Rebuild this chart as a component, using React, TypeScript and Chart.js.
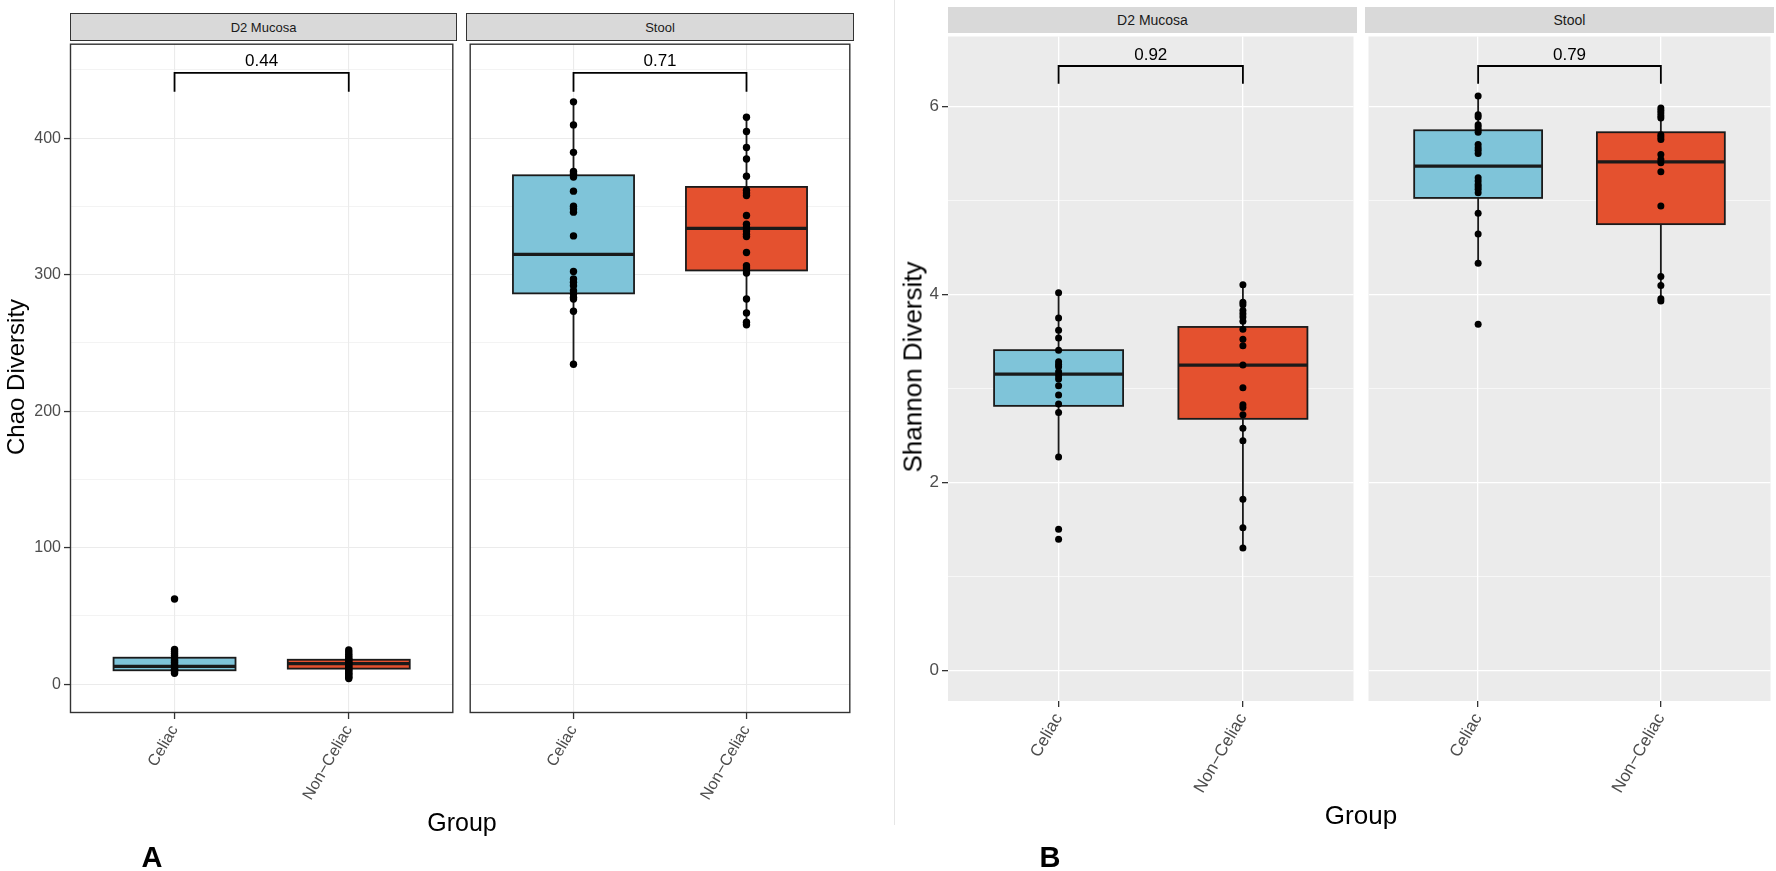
import React, { useEffect, useRef } from 'react';
import { Chart, registerables } from 'chart.js';

Chart.register(...registerables);

const FONT = "'Liberation Sans', Arial, Helvetica, sans-serif";

const GROUPS = ['Celiac', 'Non\u2212Celiac'];
const GROUP_COLORS = ['#7fc4d9', '#e4512f'];
const FACETS = ['D2 Mucosa', 'Stool'];

// ---------- Panel A : Chao diversity ----------
const CHAO_MUCOSA_CELIAC = [62.4, 25.5, 24, 22.5, 21, 19.5, 18, 17, 16, 15, 14, 13, 12, 11, 10.5, 10, 9, 8];
const CHAO_MUCOSA_NONCELIAC = [25, 23.5, 22, 20.5, 19, 18, 17, 16, 15, 14, 13, 12, 11, 10, 9, 8, 7, 6, 5, 4.2];
const CHAO_STOOL_CELIAC = [426.6, 409.7, 389.6, 375.7, 374.5, 373.3, 371.6, 361.2, 350.2, 348.3, 345.8, 328.4, 302.4, 296.8, 294.4, 291.9, 288.3, 285.8, 283.4, 282.2, 273.2, 234.4];
const CHAO_STOOL_NONCELIAC = [415.3, 404.9, 393.2, 384.7, 372.1, 361.9, 359.9, 358, 343.4, 336.9, 334.4, 332, 329.6, 327.9, 316.2, 306.5, 304.8, 302.9, 301.2, 282.2, 272, 265.2, 263.3];
// box stats: [lower whisker, Q1, median, Q3, upper whisker]
const CHAO_MUCOSA_CELIAC_BOX = [8, 10.2, 13, 19.4, 25.5];
const CHAO_MUCOSA_NONCELIAC_BOX = [4.2, 11.4, 15, 17.9, 25];
const CHAO_STOOL_CELIAC_BOX = [234.4, 286.3, 314.9, 372.8, 426.6];
const CHAO_STOOL_NONCELIAC_BOX = [263.3, 303.1, 333.9, 364.3, 415.3];
const CHAO_P = ['0.44', '0.71'];
const CHAO_BRACKET = [434, 447.9, 456.6]; // leg end, bar, label
const CHAO_Y_RANGE = [-21.1, 469.2];
const CHAO_Y_TICKS = [0, 50, 100, 150, 200, 250, 300, 350, 400, 450];
const CHAO_Y_LABELS = [0, 100, 200, 300, 400];

// ---------- Panel B : Shannon diversity ----------
const SHANNON_MUCOSA_CELIAC = [4.016, 3.748, 3.618, 3.536, 3.406, 3.282, 3.254, 3.229, 3.176, 3.134, 3.099, 3.028, 2.929, 2.834, 2.742, 2.269, 1.5, 1.394];
const SHANNON_MUCOSA_NONCELIAC = [4.101, 3.917, 3.889, 3.829, 3.794, 3.759, 3.713, 3.628, 3.522, 3.452, 3.247, 3.007, 2.824, 2.795, 2.718, 2.576, 2.442, 1.818, 1.517, 1.299];
const SHANNON_STOOL_CELIAC = [6.112, 5.911, 5.887, 5.805, 5.781, 5.752, 5.725, 5.594, 5.559, 5.534, 5.498, 5.241, 5.206, 5.17, 5.146, 5.118, 5.082, 4.863, 4.641, 4.33, 3.681];
const SHANNON_STOOL_NONCELIAC = [5.982, 5.957, 5.929, 5.901, 5.876, 5.699, 5.675, 5.647, 5.488, 5.435, 5.4, 5.304, 4.941, 4.189, 4.094, 3.953, 3.93];
const SHANNON_MUCOSA_CELIAC_BOX = [2.269, 2.813, 3.152, 3.406, 4.016];
const SHANNON_MUCOSA_NONCELIAC_BOX = [1.299, 2.675, 3.247, 3.653, 4.101];
const SHANNON_STOOL_CELIAC_BOX = [4.33, 5.026, 5.365, 5.746, 6.112];
const SHANNON_STOOL_NONCELIAC_BOX = [3.93, 4.747, 5.41, 5.725, 5.982];
const SHANNON_P = ['0.92', '0.79'];
const SHANNON_BRACKET = [6.24, 6.43, 6.546];
const SHANNON_Y_RANGE = [-0.328, 6.744];
const SHANNON_Y_TICKS = [0, 1, 2, 3, 4, 5, 6];
const SHANNON_Y_LABELS = [0, 2, 4, 6];

type FacetProps = {
  left: number; top: number; w: number; h: number;
  ya: number; xa: number;
  boxes: number[][]; points: number[][];
  pLabel: string; bracket: number[];
  yRange: number[]; yTicks: number[]; yLabels: number[];
  showY: boolean; grey: boolean;
  fontSize: number; pSize: number; radius: number; lw: number;
};

function Facet(p: FacetProps) {
  const ref = useRef<HTMLCanvasElement>(null);
  useEffect(() => {
    const canvas = ref.current!;
    const pts = p.points.flatMap((arr, i) => arr.map((v) => ({ x: i + 1, y: v })));
    const gridColor = p.grey ? '#ffffff' : '#ebebeb';
    const plugin = {
      id: 'ggbox',
      beforeDraw(chart: any) {
        if (!p.grey) return;
        const { ctx, chartArea: a } = chart;
        ctx.save();
        ctx.fillStyle = '#ebebeb';
        ctx.fillRect(a.left, a.top, a.right - a.left, a.bottom - a.top);
        ctx.restore();
      },
      beforeDatasetsDraw(chart: any) {
        const { ctx } = chart;
        const xs = chart.scales.x, ys = chart.scales.y;
        ctx.save();
        p.boxes.forEach((b, i) => {
          const cx = xs.getPixelForValue(i + 1);
          const hw = xs.getPixelForValue(i + 1.35) - cx;
          const yq1 = ys.getPixelForValue(b[1]);
          const yq3 = ys.getPixelForValue(b[3]);
          ctx.strokeStyle = '#1a1a1a';
          ctx.lineWidth = p.lw;
          ctx.beginPath();
          ctx.moveTo(cx, ys.getPixelForValue(b[0]));
          ctx.lineTo(cx, yq1);
          ctx.moveTo(cx, yq3);
          ctx.lineTo(cx, ys.getPixelForValue(b[4]));
          ctx.stroke();
          ctx.fillStyle = GROUP_COLORS[i];
          ctx.fillRect(cx - hw, yq3, 2 * hw, yq1 - yq3);
          ctx.strokeRect(cx - hw, yq3, 2 * hw, yq1 - yq3);
          ctx.lineWidth = p.lw * 1.8;
          const ym = ys.getPixelForValue(b[2]);
          ctx.beginPath();
          ctx.moveTo(cx - hw, ym);
          ctx.lineTo(cx + hw, ym);
          ctx.stroke();
        });
        ctx.restore();
      },
      afterDatasetsDraw(chart: any) {
        const { ctx } = chart;
        const xs = chart.scales.x, ys = chart.scales.y;
        const x1 = xs.getPixelForValue(1), x2 = xs.getPixelForValue(2);
        const yl = ys.getPixelForValue(p.bracket[0]);
        const yb = ys.getPixelForValue(p.bracket[1]);
        ctx.save();
        ctx.strokeStyle = '#000';
        ctx.lineWidth = p.lw;
        ctx.beginPath();
        ctx.moveTo(x1, yl);
        ctx.lineTo(x1, yb);
        ctx.lineTo(x2, yb);
        ctx.lineTo(x2, yl);
        ctx.stroke();
        ctx.fillStyle = '#000';
        ctx.font = `${p.pSize}px ${FONT}`;
        ctx.textAlign = 'center';
        ctx.textBaseline = 'middle';
        ctx.fillText(p.pLabel, (x1 + x2) / 2, ys.getPixelForValue(p.bracket[2]));
        ctx.restore();
      },
      afterDraw(chart: any) {
        if (p.grey) return;
        const { ctx, chartArea: a } = chart;
        ctx.save();
        ctx.strokeStyle = '#333333';
        ctx.lineWidth = 1.4;
        ctx.strokeRect(a.left + 0.5, a.top + 0.5, a.right - a.left - 1, a.bottom - a.top - 1);
        ctx.restore();
      },
    };
    const chart = new Chart(canvas, {
      type: 'scatter',
      data: {
        datasets: [{
          data: pts,
          pointRadius: p.radius,
          pointHoverRadius: p.radius,
          pointBackgroundColor: '#000',
          pointBorderWidth: 0,
        }],
      },
      options: {
        animation: false,
        responsive: false,
        maintainAspectRatio: false,
        devicePixelRatio: 1,
        events: [],
        layout: { padding: 0 },
        plugins: { legend: { display: false }, tooltip: { enabled: false }, title: { display: false } },
        scales: {
          x: {
            type: 'linear',
            min: 0.4,
            max: 2.6,
            bounds: 'data',
            afterBuildTicks: (s: any) => { s.ticks = GROUPS.map((_, i) => ({ value: i + 1 })); },
            afterFit: (s: any) => { s.height = p.xa; s.paddingLeft = 0; s.paddingRight = 0; },
            grid: { color: gridColor, lineWidth: p.grey ? 1.3 : 1.1, drawTicks: true, tickLength: 6, tickColor: '#333333', tickWidth: 1.3 },
            border: { display: false },
            ticks: {
              autoSkip: false, minRotation: 60, maxRotation: 60, padding: 3,
              color: '#4d4d4d', font: { family: FONT, size: p.fontSize },
              callback: (v: any) => GROUPS[Math.round(v) - 1] ?? '',
            },
          },
          y: {
            type: 'linear',
            min: p.yRange[0],
            max: p.yRange[1],
            bounds: 'data',
            afterBuildTicks: (s: any) => { s.ticks = p.yTicks.map((v) => ({ value: v })); },
            afterFit: (s: any) => { s.width = p.ya; s.paddingTop = 0; s.paddingBottom = 0; },
            grid: {
              color: gridColor,
              lineWidth: (c: any) => (p.yLabels.includes(c.tick?.value) ? (p.grey ? 1.3 : 1.1) : 0.6),
              drawTicks: p.showY,
              tickLength: 6,
              tickColor: (c: any) => (p.yLabels.includes(c.tick?.value) ? '#333333' : 'rgba(0,0,0,0)'),
              tickWidth: 1.3,
            },
            border: { display: false },
            ticks: {
              display: p.showY, autoSkip: false, padding: 3,
              color: '#4d4d4d', font: { family: FONT, size: p.fontSize },
              callback: (v: any) => (p.yLabels.includes(v) ? String(v) : ''),
            },
          },
        },
      } as any,
      plugins: [plugin],
    });
    return () => chart.destroy();
  }, []);
  return (
    <canvas
      ref={ref}
      width={p.w}
      height={p.h}
      style={{ position: 'absolute', left: p.left, top: p.top, width: p.w, height: p.h }}
    />
  );
}

const abs = (s: any) => ({ position: 'absolute', fontFamily: FONT, whiteSpace: 'nowrap', ...s } as React.CSSProperties);

export default function App() {
  const commonA = { yRange: CHAO_Y_RANGE, yTicks: CHAO_Y_TICKS, yLabels: CHAO_Y_LABELS, grey: false, fontSize: 16, pSize: 17, radius: 3.7, lw: 1.8, top: 40, h: 831, xa: 158 };
  const commonB = { yRange: SHANNON_Y_RANGE, yTicks: SHANNON_Y_TICKS, yLabels: SHANNON_Y_LABELS, grey: true, fontSize: 17, pSize: 17, radius: 3.5, lw: 1.8, top: 33, h: 838, xa: 170 };
  return (
    <div style={{ position: 'fixed', left: 0, top: 0, width: 1776, height: 871, background: '#fff', overflow: 'hidden' }}>
      {/* Panel A */}
      <Facet {...commonA} left={0} w={457} ya={70} showY={true}
        boxes={[CHAO_MUCOSA_CELIAC_BOX, CHAO_MUCOSA_NONCELIAC_BOX]}
        points={[CHAO_MUCOSA_CELIAC, CHAO_MUCOSA_NONCELIAC]}
        pLabel={CHAO_P[0]} bracket={CHAO_BRACKET} />
      <Facet {...commonA} left={466} w={388} ya={0} showY={false}
        boxes={[CHAO_STOOL_CELIAC_BOX, CHAO_STOOL_NONCELIAC_BOX]}
        points={[CHAO_STOOL_CELIAC, CHAO_STOOL_NONCELIAC]}
        pLabel={CHAO_P[1]} bracket={CHAO_BRACKET} />
      {[{ l: 70, w: 387 }, { l: 466, w: 388 }].map((s, i) => (
        <div key={'sa' + i} style={abs({ left: s.l, top: 13, width: s.w, height: 28, boxSizing: 'border-box', background: '#d9d9d9', border: '1.4px solid #333', color: '#1a1a1a', fontSize: 13, display: 'flex', alignItems: 'center', justifyContent: 'center' })}>{FACETS[i]}</div>
      ))}
      <div style={abs({ left: 16, top: 377, transform: 'translate(-50%,-50%) rotate(-90deg)', fontSize: 24, color: '#000' })}>Chao Diversity</div>
      <div style={abs({ left: 462, top: 822, transform: 'translate(-50%,-50%)', fontSize: 25, color: '#000' })}>Group</div>
      <div style={abs({ left: 152, top: 857, transform: 'translate(-50%,-50%)', fontSize: 29, fontWeight: 'bold', color: '#000' })}>A</div>

      {/* Panel B */}
      <div style={abs({ left: 894, top: 0, width: 1, height: 825, background: '#e6e6e6' })} />
      <Facet {...commonB} left={900} w={457} ya={48} showY={true}
        boxes={[SHANNON_MUCOSA_CELIAC_BOX, SHANNON_MUCOSA_NONCELIAC_BOX]}
        points={[SHANNON_MUCOSA_CELIAC, SHANNON_MUCOSA_NONCELIAC]}
        pLabel={SHANNON_P[0]} bracket={SHANNON_BRACKET} />
      <Facet {...commonB} left={1365} w={409} ya={0} showY={false}
        boxes={[SHANNON_STOOL_CELIAC_BOX, SHANNON_STOOL_NONCELIAC_BOX]}
        points={[SHANNON_STOOL_CELIAC, SHANNON_STOOL_NONCELIAC]}
        pLabel={SHANNON_P[1]} bracket={SHANNON_BRACKET} />
      {[{ l: 948, w: 409 }, { l: 1365, w: 409 }].map((s, i) => (
        <div key={'sb' + i} style={abs({ left: s.l, top: 7, width: s.w, height: 26, background: '#d9d9d9', color: '#1a1a1a', fontSize: 14, display: 'flex', alignItems: 'center', justifyContent: 'center' })}>{FACETS[i]}</div>
      ))}
      <div style={abs({ left: 913, top: 367, transform: 'translate(-50%,-50%) rotate(-90deg)', fontSize: 26, color: '#000' })}>Shannon Diversity</div>
      <div style={abs({ left: 1361, top: 815, transform: 'translate(-50%,-50%)', fontSize: 26, color: '#000' })}>Group</div>
      <div style={abs({ left: 1050, top: 857, transform: 'translate(-50%,-50%)', fontSize: 29, fontWeight: 'bold', color: '#000' })}>B</div>
    </div>
  );
}
